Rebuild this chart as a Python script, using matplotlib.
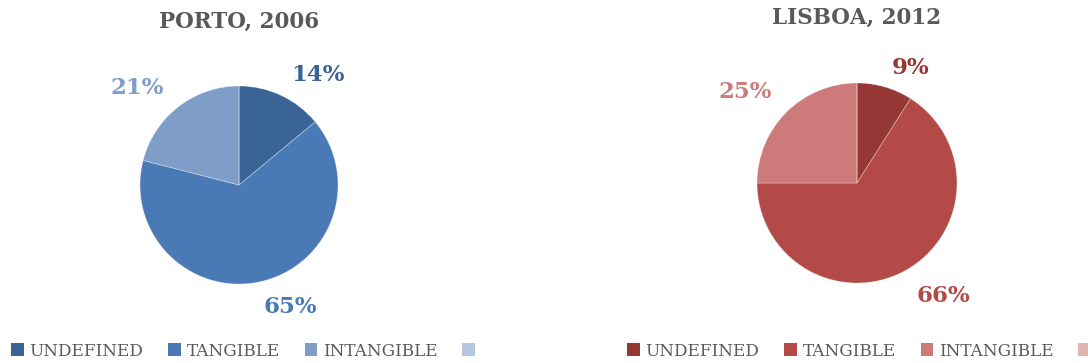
import matplotlib
matplotlib.use("Agg")
import matplotlib.pyplot as plt
from matplotlib.patches import Patch

plt.rcParams["font.family"] = ["DejaVu Serif"]

categories = ["UNDEFINED", "TANGIBLE", "INTANGIBLE", ""]
porto_values = [14, 65, 21, 0]
lisboa_values = [9, 66, 25, 0]
porto_colors = ["#3a6496", "#4a7ab5", "#7f9dc9", "#b6c6e0"]
lisboa_colors = ["#953735", "#b44a48", "#cd7b7a", "#e0b4b3"]

# where the percentage labels sit, in pie radii from the centre
porto_label_pos = [(0.80, 1.11), (0.52, -1.23), (-1.03, 0.98)]
lisboa_label_pos = [(0.54, 1.15), (0.86, -1.13), (-1.12, 0.91)]

W, H = 1088, 363
fig = plt.figure(figsize=(W / 100, H / 100), dpi=100)
gray = "#595959"


def draw_pie(cx, cy, r, values, colors, label_pos, title, title_y, legend_x):
    half = 1.6 * r
    ax = fig.add_axes([(cx - half) / W, (H - cy - half) / H, 2 * half / W, 2 * half / H])
    wedges, _, autotexts = ax.pie(
        values, colors=colors, startangle=90, counterclock=False,
        autopct=lambda p: f"{p:.0f}%" if p > 0 else "", pctdistance=1.33,
        wedgeprops=dict(linewidth=0.6, edgecolor=(1, 1, 1, 0.35)))
    for t, c, pos in zip(autotexts, colors, label_pos + [(0, 0)]):
        t.set_color(c)
        t.set_fontsize(16.5)
        t.set_fontweight("bold")
        t.set_position(pos)
    ax.set_xlim(-1.6, 1.6)
    ax.set_ylim(-1.6, 1.6)
    ax.set_aspect("equal")
    ax.axis("off")
    fig.text(cx / W, 1 - title_y / H, title, ha="center", va="center",
             fontsize=15.5, fontweight="bold", color=gray)
    handles = [Patch(facecolor=c) for c in colors]
    fig.legend(handles, categories, loc="center left", ncol=4,
               bbox_to_anchor=(legend_x / W, 1 - 351 / H), frameon=False,
               fontsize=12.2, labelcolor=gray, handlelength=0.75, handleheight=0.75,
               handletextpad=0.35, columnspacing=1.45, borderaxespad=0, borderpad=0)


draw_pie(239, 185, 99, porto_values, porto_colors, porto_label_pos, "PORTO, 2006", 22, 11)
draw_pie(857, 183, 100, lisboa_values, lisboa_colors, lisboa_label_pos, "LISBOA, 2012", 18, 627)

fig.savefig("out.png", dpi=100)
